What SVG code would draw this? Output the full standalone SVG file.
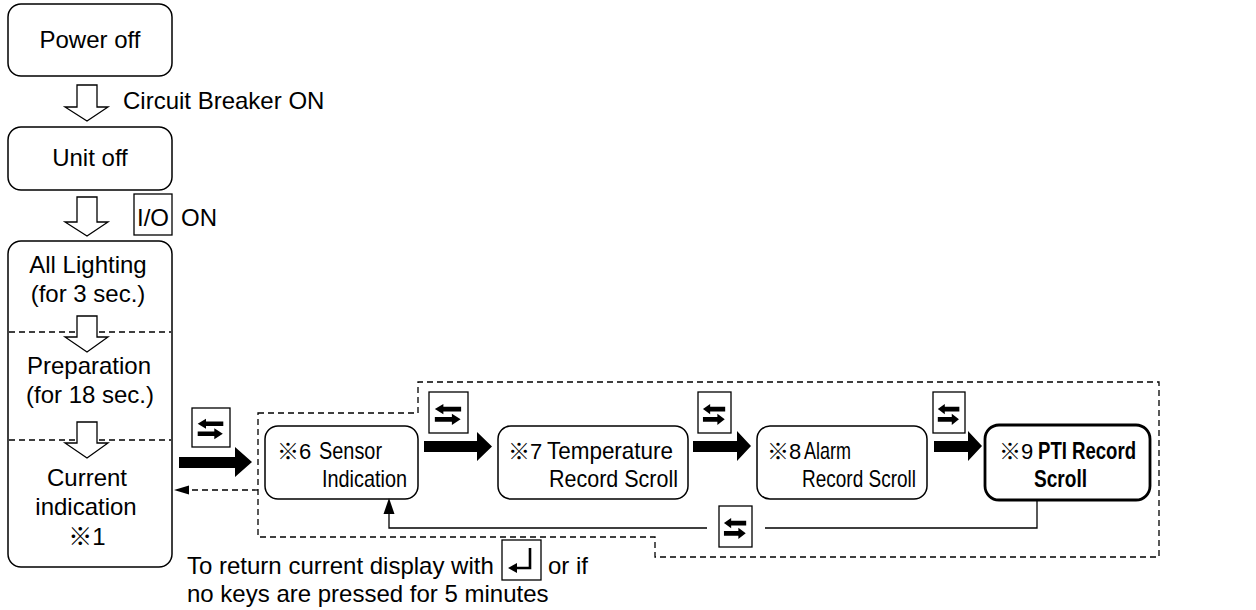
<svg xmlns="http://www.w3.org/2000/svg" xmlns:xlink="http://www.w3.org/1999/xlink" width="1256" height="610" viewBox="0 0 1256 610">
<style>
  .t{font-family:"Liberation Sans","Noto Sans CJK JP",Arial,sans-serif;font-size:24px;fill:#000}
  .n{font-family:"Liberation Sans","Noto Sans CJK JP",Arial,sans-serif;font-size:22px;fill:#000}
  .w{font-family:"Liberation Sans",Arial,sans-serif;font-size:24px;fill:#000}
  .b{font-weight:bold}
  .box{fill:#fff;stroke:#000;stroke-width:1.5}
  .thick{fill:#fff;stroke:#000;stroke-width:2.8}
  .key{fill:#fff;stroke:#000;stroke-width:1.3}
  .dash{fill:none;stroke:#000;stroke-width:1.3;stroke-dasharray:6 4}
  .hollow{fill:#fff;stroke:#000;stroke-width:1.3;stroke-linejoin:miter}
  .solid{fill:#000;stroke:none}
  .line{fill:none;stroke:#000;stroke-width:1.3}
</style>
<defs>
  <symbol id="swap" viewBox="0 0 38 39" preserveAspectRatio="none">
    <polygon points="5.7,15.7 14,10.7 14,13.4 31.3,13.4 31.3,18 14,18 14,20.7" fill="#000"/>
    <polygon points="5.7,23.4 22.3,23.4 22.3,20.2 30.8,25.7 22.3,31.3 22.3,28 5.7,28" fill="#000"/>
  </symbol>
</defs>

<!-- nodes -->
<g id="power-off">
  <rect class="box" x="8" y="4" width="164" height="72" rx="13"/>
  <text class="t" x="90" y="48" text-anchor="middle">Power off</text>
</g>
<g id="unit-off">
  <rect class="box" x="8" y="127" width="164" height="63" rx="13"/>
  <text class="t" x="90" y="166" text-anchor="middle">Unit off</text>
</g>
<g id="startup">
  <rect class="box" x="8" y="241" width="164" height="326" rx="13"/>
  <line class="dash" x1="9" y1="332" x2="171" y2="332"/>
  <line class="dash" x1="9" y1="440" x2="171" y2="440"/>
  <text class="t" x="88" y="273" text-anchor="middle">All Lighting</text>
  <text class="t" x="88" y="302" text-anchor="middle">(for 3 sec.)</text>
  <text class="t" x="89" y="374" text-anchor="middle">Preparation</text>
  <text class="t" x="90" y="403" text-anchor="middle">(for 18 sec.)</text>
  <text class="t" x="87" y="486" text-anchor="middle">Current</text>
  <text class="t" x="86" y="515" text-anchor="middle">indication</text>
  <text class="t" x="87" y="545" text-anchor="middle">※1</text>
  <polygon class="hollow" points="77,316 97,316 97,337 108,337 87,352 65,337 77,337"/>
  <polygon class="hollow" points="77,422 97,422 97,443 108,443 87,458 65,443 77,443"/>
</g>
<g id="sensor">
  <rect class="box" x="265" y="426" width="153" height="73" rx="13"/>
  <text class="n" x="277" y="459">※6</text>
  <text class="w" x="319" y="459" textLength="63" lengthAdjust="spacingAndGlyphs">Sensor</text>
  <text class="w" x="322" y="487" textLength="85" lengthAdjust="spacingAndGlyphs">Indication</text>
</g>
<g id="temperature">
  <rect class="box" x="498" y="426" width="190" height="73" rx="13"/>
  <text class="n" x="508" y="459">※7</text>
  <text class="w" x="547" y="459" textLength="126" lengthAdjust="spacingAndGlyphs">Temperature</text>
  <text class="w" x="549" y="487" textLength="129" lengthAdjust="spacingAndGlyphs">Record Scroll</text>
</g>
<g id="alarm">
  <rect class="box" x="757" y="426" width="170" height="73" rx="13"/>
  <text class="n" x="767" y="459">※8</text>
  <text class="w" x="804" y="459" textLength="47" lengthAdjust="spacingAndGlyphs">Alarm</text>
  <text class="w" x="802" y="487" textLength="114" lengthAdjust="spacingAndGlyphs">Record Scroll</text>
</g>
<g id="pti">
  <rect class="thick" x="985" y="425" width="165" height="75" rx="14"/>
  <text class="n" x="999" y="459">※9</text>
  <text class="w b" x="1038" y="459" textLength="98" lengthAdjust="spacingAndGlyphs">PTI Record</text>
  <text class="w b" x="1034" y="487" textLength="53" lengthAdjust="spacingAndGlyphs">Scroll</text>
</g>

<!-- connectors -->
<g id="connectors">
  <polygon class="hollow" points="77,85 97,85 97,107 108,107 87,121 65,107 77,107"/>
  <text class="t" x="123" y="109">Circuit Breaker ON</text>
  <polygon class="hollow" points="77,197 97,197 97,222 108,222 87,236 65,222 77,222"/>
  <rect class="key" x="134" y="194" width="38" height="41"/>
  <text class="t" x="137" y="226">I/O</text>
  <text class="t" x="181" y="226">ON</text>

  <polygon class="dash" points="258,413 418,413 418,382 1159,382 1159,557 655,557 655,537 258,537"/>

  <polygon class="solid" points="179,457 235,457 235,447 252,462 235,477 235,468 179,468"/>
  <rect class="key" x="192" y="408" width="38" height="39"/>
  <use xlink:href="#swap" x="192" y="408" width="38" height="39"/>

  <line class="dash" x1="258" y1="490" x2="188" y2="490"/>
  <polygon class="solid" points="174,490 189,485.5 189,494.5"/>

  <polygon class="solid" points="424,441 477,441 477,432 492,446.5 477,461 477,452 424,452"/>
  <rect class="key" x="429" y="392" width="39" height="41"/>
  <use xlink:href="#swap" x="429" y="393" width="39" height="40"/>

  <polygon class="solid" points="693,441 737,441 737,431 751,446 737,461 737,452 693,452"/>
  <rect class="key" x="698" y="392" width="33" height="41"/>
  <use xlink:href="#swap" x="698" y="393" width="33" height="40"/>

  <polygon class="solid" points="934,441 968,441 968,431 982,446 968,461 968,452 934,452"/>
  <rect class="key" x="933" y="392" width="32" height="41"/>
  <use xlink:href="#swap" x="933" y="393" width="32" height="40"/>

  <polyline class="line" points="1037,500 1037,528 765,528"/>
  <polyline class="line" points="707,528 389,528 389,510"/>
  <polygon class="solid" points="389,498 383.5,514 394.5,514"/>
  <rect class="key" x="719" y="506" width="33" height="41"/>
  <use xlink:href="#swap" x="719" y="507" width="33" height="40"/>

  <text class="t" x="187" y="574">To return current display with</text>
  <rect class="key" x="502" y="540" width="39" height="40"/>
  <polyline points="530,548 530,568 515,568" fill="none" stroke="#000" stroke-width="2.6"/>
  <polygon class="solid" points="508,568 517,563 517,573"/>
  <text class="t" x="548" y="574">or if</text>
  <text class="t" x="187" y="602">no keys are pressed for 5 minutes</text>
</g>
</svg>
